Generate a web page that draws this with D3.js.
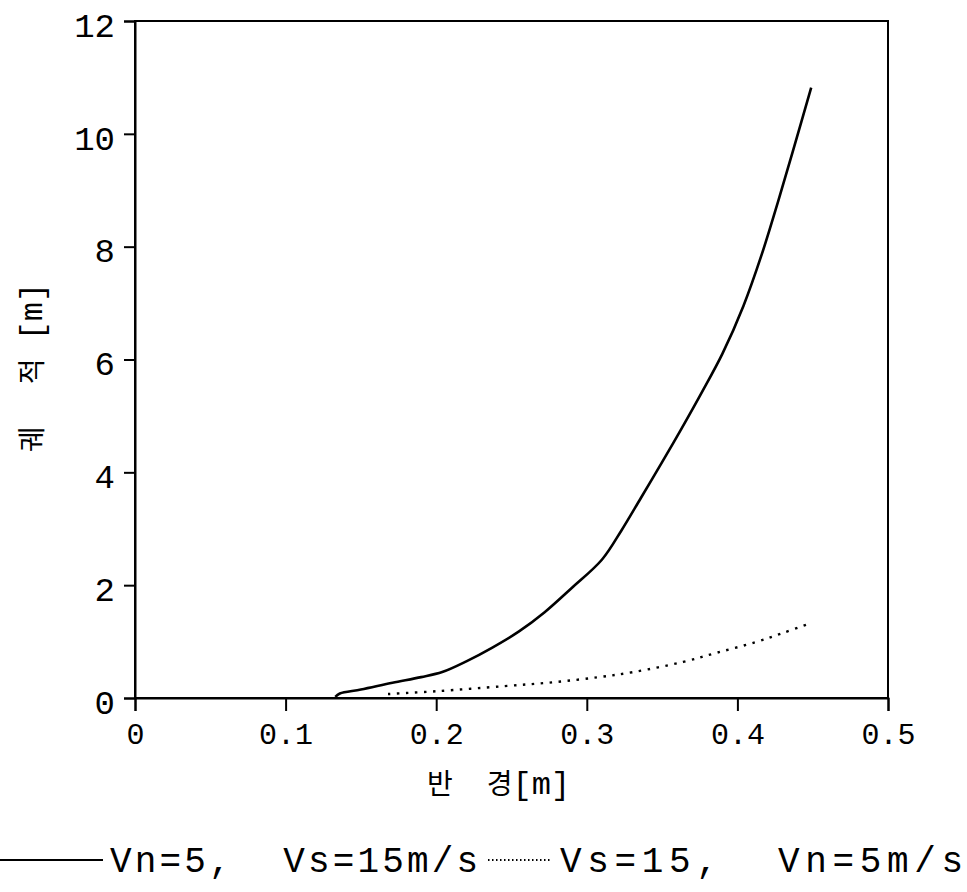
<!DOCTYPE html>
<html>
<head>
<meta charset="utf-8">
<script src="https://cdn.jsdelivr.net/npm/d3@7"></script>
<style>
  html, body { margin: 0; padding: 0; background: #fff; }
  svg { display: block; }
</style>
</head>
<body>
<svg id="chart" width="967" height="892"></svg>
<script>
// ---- data ----
const solidX = [0.133, 0.136, 0.150, 0.171, 0.190, 0.204, 0.220, 0.237, 0.255, 0.272, 0.290, 0.310, 0.323, 0.336, 0.350, 0.363, 0.376, 0.390, 0.404, 0.416, 0.427, 0.438, 0.449];
const solidY = [0.02, 0.08, 0.15, 0.27, 0.37, 0.46, 0.65, 0.89, 1.18, 1.52, 1.95, 2.45, 2.97, 3.55, 4.18, 4.78, 5.40, 6.10, 6.95, 7.85, 8.80, 9.80, 10.82];
const dotX = [0.168, 0.200, 0.245, 0.278, 0.308, 0.331, 0.364, 0.386, 0.412, 0.430, 0.449];
const dotY = [0.07, 0.12, 0.21, 0.28, 0.37, 0.46, 0.64, 0.80, 0.99, 1.15, 1.33];
const xTicks = [0, 0.1, 0.2, 0.3, 0.4, 0.5];
const xTickLabels = ["0", "0.1", "0.2", "0.3", "0.4", "0.5"];
const yTicks = [0, 2, 4, 6, 8, 10, 12];
const yTickLabels = ["0", "2", "4", "6", "8", "10", "12"];
const xTitleParts = ["반", "경", "[m]"];
const yTitleParts = ["궤", "적", "[m]"];
const legendLabels = ["Vn=5,  Vs=15m/s", "Vs=15,  Vn=5m/s"];

// ---- layout ----
const plotL = 135, plotR = 888, plotT = 21, plotB = 698;
const svg = d3.select("#chart");
const x = d3.scaleLinear().domain([0, 0.5]).range([plotL, plotR]);
const y = d3.scaleLinear().domain([0, 12]).range([plotB, plotT]);
const monoFont = "'Liberation Mono', 'DejaVu Sans Mono', monospace";
const krFont = "'Noto Sans CJK KR', 'Noto Sans', sans-serif";

// frame
svg.append("rect")
  .attr("x", plotL).attr("y", plotT)
  .attr("width", plotR - plotL).attr("height", plotB - plotT)
  .attr("fill", "none").attr("stroke", "#000").attr("stroke-width", 2);

// y axis
const yAxis = d3.axisLeft(y).tickValues(yTicks)
  .tickFormat((d, i) => yTickLabels[i]).tickSize(11).tickPadding(9);
const gy = svg.append("g").attr("transform", `translate(${plotL},0)`).call(yAxis);
gy.select(".domain").attr("stroke-width", 2);
gy.selectAll(".tick line").attr("stroke-width", 2);
gy.selectAll(".tick text").attr("font-family", monoFont).attr("font-size", 34)
  .attr("fill", "#000").attr("dy", "0.45em");

// x axis
const xAxis = d3.axisBottom(x).tickValues(xTicks)
  .tickFormat((d, i) => xTickLabels[i]).tickSize(13).tickPadding(12);
const gx = svg.append("g").attr("transform", `translate(0,${plotB})`).call(xAxis);
gx.select(".domain").attr("stroke-width", 2);
gx.selectAll(".tick line").attr("stroke-width", 2);
gx.selectAll(".tick text").attr("font-family", monoFont).attr("font-size", 30)
  .attr("fill", "#000");

// x title: 반 경[m]
const xt = svg.append("text").attr("x", 427).attr("y", 794)
  .attr("font-family", krFont).attr("font-size", 28).attr("fill", "#000");
xt.append("tspan").text(xTitleParts[0]);
xt.append("tspan").attr("dx", 34).text(xTitleParts[1]);
xt.append("tspan").attr("font-family", monoFont).attr("font-size", 32).text(xTitleParts[2]);

// y title: 궤 적 [m] (rotated)
const yt = svg.append("text").attr("transform", "translate(42,452) rotate(-90)")
  .attr("font-family", krFont).attr("font-size", 28).attr("fill", "#000");
yt.append("tspan").text(yTitleParts[0]);
yt.append("tspan").attr("dx", 42).text(yTitleParts[1]);
yt.append("tspan").attr("dx", 18).attr("font-family", monoFont).attr("font-size", 32).text(yTitleParts[2]);

// lines
const line = d3.line().x(d => x(d[0])).y(d => y(d[1])).curve(d3.curveCatmullRom.alpha(0.5));
const solidData = solidX.map((v, i) => [v, solidY[i]]);
const dotData = dotX.map((v, i) => [v, dotY[i]]);
svg.append("path").datum(solidData).attr("d", line)
  .attr("fill", "none").attr("stroke", "#000").attr("stroke-width", 2.6);
svg.append("path").datum(dotData).attr("d", line)
  .attr("fill", "none").attr("stroke", "#000").attr("stroke-width", 2.4)
  .attr("stroke-dasharray", "2.5,6.5");

// legend
const ly = 860;
svg.append("line").attr("x1", 0).attr("x2", 103).attr("y1", ly).attr("y2", ly)
  .attr("stroke", "#000").attr("stroke-width", 2);
svg.append("text").attr("x", 110).attr("y", ly + 12)
  .attr("font-family", monoFont).attr("font-size", 36).attr("fill", "#000")
  .attr("textLength", 368).attr("lengthAdjust", "spacing")
  .style("white-space", "pre")
  .text(legendLabels[0]);
svg.append("line").attr("x1", 488).attr("x2", 552).attr("y1", ly).attr("y2", ly)
  .attr("stroke", "#000").attr("stroke-width", 2).attr("stroke-dasharray", "1.5,2.5");
svg.append("text").attr("x", 560).attr("y", ly + 12)
  .attr("font-family", monoFont).attr("font-size", 36).attr("fill", "#000")
  .attr("textLength", 403).attr("lengthAdjust", "spacing")
  .style("white-space", "pre")
  .text(legendLabels[1]);
</script>
</body>
</html>
